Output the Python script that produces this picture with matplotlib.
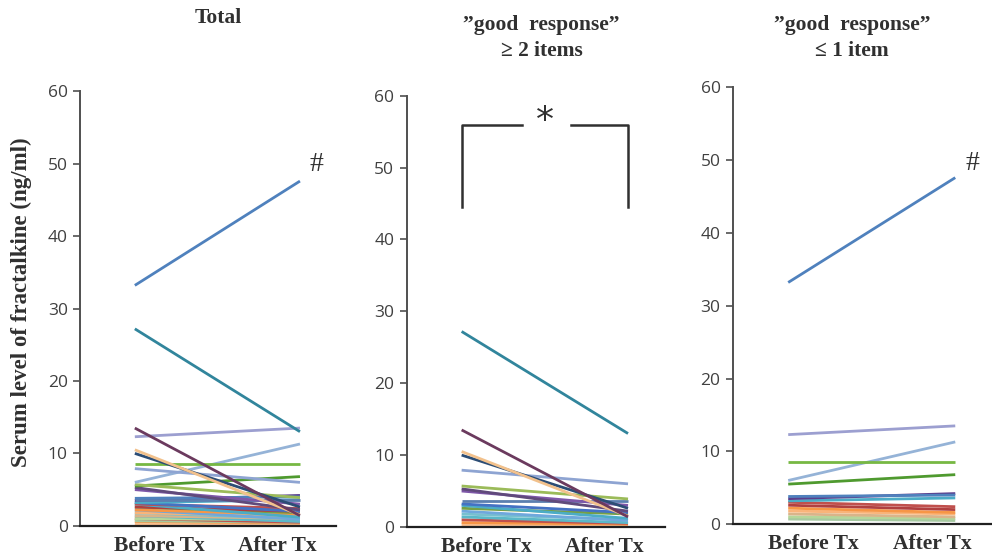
import matplotlib.pyplot as plt

# "good response" >= 2 items: (before, after, colour)
good_before = [27.2, 13.5, 10.5, 10.0, 7.9, 5.7, 5.3, 5.0, 3.6, 3.2, 3.0, 2.6, 2.2, 1.8, 1.4, 1.0, 0.6, 0.3]
good_after = [13.0, 1.4, 1.5, 2.6, 6.0, 3.9, 2.2, 3.0, 3.6, 2.0, 1.2, 1.8, 0.9, 1.0, 0.6, 0.5, 0.4, 0.2]
good_colors = ["#31859C", "#6B3A5E", "#F2C18C", "#2C4D75", "#8EA4D2", "#9BBB59",
               "#604A7B", "#7E57A8", "#5B7FAF", "#4472C4", "#4BACC6", "#76A045",
               "#6FA8DC", "#77C0D0", "#5BB8C8", "#C0504D", "#F79646", "#FAC090"]

# "good response" <= 1 item
poor_before = [33.2, 12.3, 6.0, 8.6, 5.5, 3.8, 3.5, 3.2, 3.0, 2.6, 2.2, 1.8, 1.4, 1.0, 0.7]
poor_after = [47.6, 13.5, 11.3, 8.6, 6.8, 4.0, 4.2, 3.6, 2.4, 2.0, 1.6, 1.4, 1.0, 0.8, 0.5]
poor_colors = ["#4F81BD", "#9C9FD0", "#95B3D7", "#77B843", "#4F9A2F", "#4F81BD",
               "#5A3E8C", "#4BACC6", "#C0504D", "#B04040", "#F79646", "#F9B47A",
               "#D9B48A", "#B5D69A", "#A5C8A0"]

x_labels = ["Before Tx", "After Tx"]
y_ticks = [0, 10, 20, 30, 40, 50, 60]

titles = ["Total", "\u201dgood  response\u201d\n\u2265 2 items", "\u201dgood  response\u201d\n\u2264 1 item"]

serif = "Liberation Serif"
tick_grey = "#404040"

fig = plt.figure(figsize=(9.92, 5.60), dpi=100)

# panel rectangles in figure fractions
panel_rects = [
    [0.081, 0.061, 0.258, 0.776],
    [0.410, 0.059, 0.260, 0.770],
    [0.739, 0.064, 0.261, 0.780],
]

groups = [
    (good_before + poor_before, good_after + poor_after, good_colors + poor_colors),
    (good_before, good_after, good_colors),
    (poor_before, poor_after, poor_colors),
]

axes = []
for i, rect in enumerate(panel_rects):
    ax = fig.add_axes(rect)
    before, after, cols = groups[i]
    # draw big values last so they sit on top
    order = sorted(range(len(before)), key=lambda k: before[k])
    for k in order:
        ax.plot([0, 1], [before[k], after[k]], color=cols[k], lw=2.0,
                solid_capstyle="butt")

    ax.set_xlim(-0.33, 1.22)
    ax.set_ylim(0, 60)
    ax.set_yticks(y_ticks)
    ax.set_yticklabels([str(v) for v in y_ticks], fontsize=12.5, color=tick_grey,
                       family="Open Sans")
    ax.set_xticks([0.15, 0.86])
    ax.set_xticklabels(x_labels, fontsize=15.5, fontweight="bold", family=serif,
                       color="#303030")
    ax.tick_params(axis="x", length=0, pad=7)
    ax.tick_params(axis="y", direction="out", length=5, width=1.2, color="#505050", pad=4)

    for s in ["top", "right"]:
        ax.spines[s].set_visible(False)
    ax.spines["left"].set_color("#505050")
    ax.spines["left"].set_linewidth(1.4)
    ax.spines["bottom"].set_color("#202020")
    ax.spines["bottom"].set_linewidth(1.6)
    ax.patch.set_alpha(0)
    axes.append(ax)

# titles
title_x = [0.220, 0.546, 0.859]
title_y = [0.968, 0.932, 0.932]
for tx, ty, t in zip(title_x, title_y, titles):
    fig.text(tx, ty, t, ha="center", va="center", family=serif, fontweight="bold",
             fontsize=15.5, color="#303030", linespacing=1.4)

# y label
fig.text(0.022, 0.46, "Serum level of fractalkine (ng/ml)", rotation=90, ha="center",
         va="center", family=serif, fontweight="bold", fontsize=16.5, color="#303030")

# significance markers
axes[0].text(1.06, 49.9, "#", fontsize=20, family=serif, ha="left", va="center",
             color="#303030")
axes[2].text(1.06, 49.5, "#", fontsize=20, family=serif, ha="left", va="center",
             color="#303030")

ax2 = axes[1]
br_col = "#303030"
ax2.plot([0, 0, 0.36], [44.5, 56, 56], color=br_col, lw=1.8)
ax2.plot([0.66, 1, 1], [56, 56, 44.5], color=br_col, lw=1.8)
ax2.text(0.5, 56.5, "*", fontsize=26, ha="center", va="center", color=br_col,
         family="DejaVu Sans")

fig.savefig("out.png", dpi=100)
